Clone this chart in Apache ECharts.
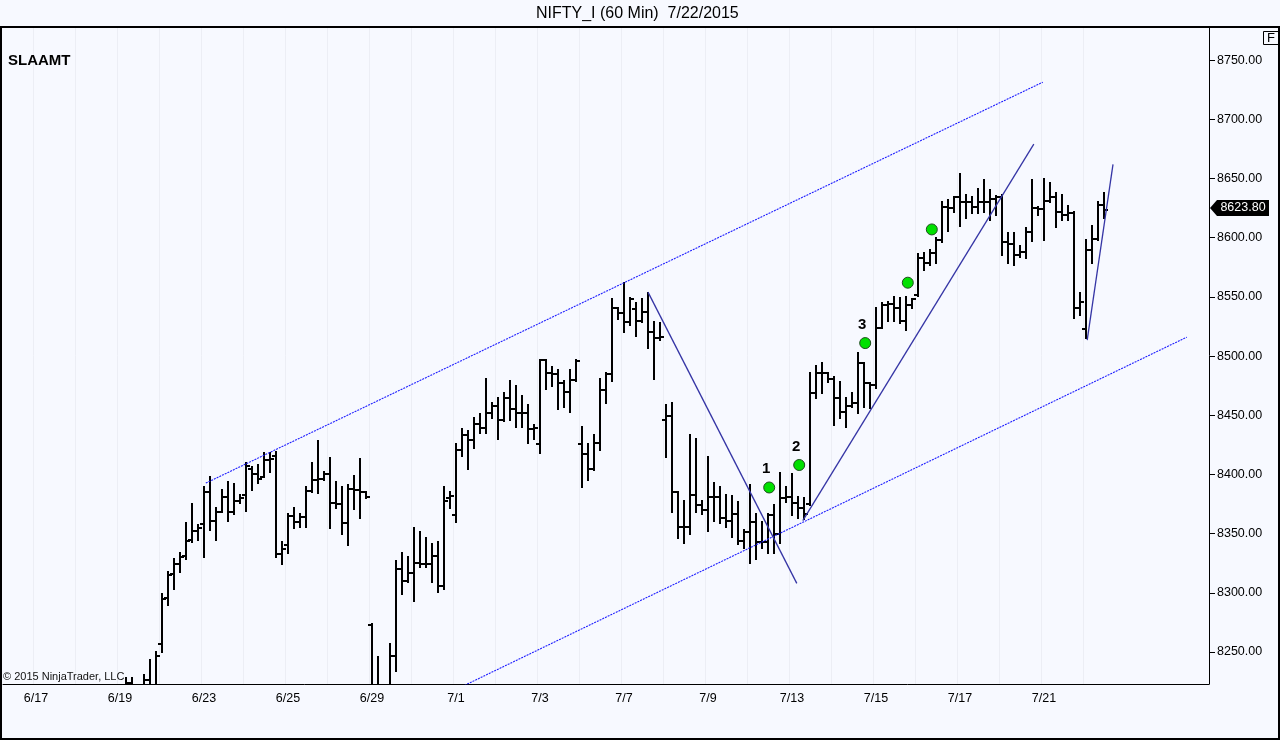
<!DOCTYPE html>
<html>
<head>
<meta charset="utf-8">
<title>NIFTY_I (60 Min)</title>
<script src="https://cdn.jsdelivr.net/npm/echarts@6.0.0/dist/echarts.min.js"></script>
<style>
  html, body { margin: 0; padding: 0; background: #F7F9FF; }
  #chart { width: 1280px; height: 740px; }
</style>
</head>
<body>
<div id="chart"></div>
<script>
// trading days shown on the axis, 7 hourly bars per session
var days = ['6/17', '6/18', '6/19', '6/22', '6/23', '6/24', '6/25', '6/26', '6/29', '6/30',
    '7/1', '7/2', '7/3', '7/6', '7/7', '7/8', '7/9', '7/10', '7/13', '7/14',
    '7/15', '7/16', '7/17', '7/20', '7/21', '7/22'];

var LEAD = 5;        // bars of 6/16 at the left edge (below the visible range)
var PER_DAY = 7;
var SLOTS = 201;
var FIRST_BAR = 19;  // first slot that has values (6/19, bar 1)

// one row per session, from 6/19
var opens = [
    null, 8222, 8224, 8214, 8212, 8226, 8222,
    8257, 8296, 8316, 8324, 8331, 8345, 8352,
    8358, 8385, 8361, 8368, 8381, 8368, 8378,
    8383, 8405, 8400, 8398, 8412, 8416, 8333,
    8340, 8365, 8360, 8364, 8386, 8395, 8396,
    8400, 8376, 8375, 8359, 8388, 8387, 8385,
    8273, 8215, 8206, 8208, 8247, 8320, 8310,
    8317, 8325, 8324, 8324, 8331, 8306, 8380,
    8366, 8421, 8433, 8429, 8443, 8439, 8452,
    8458, 8446, 8465, 8455, 8452, 8452, 8438,
    8426, 8497, 8486, 8485, 8477, 8470, 8480,
    8426, 8417, 8405, 8427, 8471, 8485, 8541,
    8536, 8529, 8540, 8530, 8537, 8520, 8515,
    8446, 8449, 8385, 8356, 8356, 8383, 8374,
    8370, 8381, 8381, 8363, 8361, 8367, 8344,
    8351, 8360, 8343, 8343, 8366, 8350, 8380,
    8381, 8376, 8372, 8375, 8469, 8486, 8486,
    8481, 8465, 8453, 8458, 8460, 8494, 8477,
    8476, 8524, 8543, 8544, 8541, 8530, 8543,
    8552, 8583, 8579, 8587, 8598, 8626, 8625,
    8634, 8630, 8630, 8626, 8630, 8630, 8633,
    8634, 8596, 8595, 8585, 8588, 8605, 8625,
    8624, 8631, 8634, 8622, 8619, 8621, 8541,
    8523, 8590, 8599, 8628
];
var highs = [
    null, 8228, 8228, 8219, 8231, 8243, 8250,
    8299, 8318, 8329, 8334, 8359, 8375, 8357,
    8389, 8398, 8372, 8387, 8394, 8392, 8383,
    8410, 8406, 8408, 8418, 8418, 8419, 8343,
    8367, 8372, 8367, 8389, 8410, 8428, 8402,
    8414, 8394, 8389, 8391, 8399, 8413, 8385,
    8274, 8246, 8219, 8257, 8327, 8334, 8330,
    8355, 8351, 8346, 8341, 8343, 8389, 8385,
    8426, 8438, 8437, 8448, 8451, 8481, 8460,
    8465, 8469, 8479, 8475, 8466, 8459, 8442,
    8497, 8497, 8491, 8488, 8479, 8488, 8497,
    8440, 8426, 8433, 8481, 8486, 8548, 8541,
    8562, 8549, 8545, 8548, 8553, 8529, 8528,
    8459, 8460, 8385, 8378, 8433, 8430, 8378,
    8415, 8393, 8389, 8383, 8382, 8377, 8353,
    8391, 8367, 8360, 8367, 8374, 8401, 8389,
    8400, 8381, 8380, 8486, 8492, 8494, 8486,
    8482, 8478, 8465, 8469, 8503, 8494, 8477,
    8541, 8545, 8546, 8550, 8549, 8550, 8548,
    8586, 8587, 8590, 8600, 8630, 8632, 8634,
    8654, 8636, 8634, 8641, 8649, 8640, 8635,
    8636, 8604, 8604, 8593, 8608, 8649, 8626,
    8650, 8646, 8638, 8636, 8627, 8622, 8553,
    8598, 8610, 8630, 8638
];
var lows = [
    null, 8212, 8210, 8204, 8208, 8214, 8219,
    8250, 8290, 8303, 8318, 8329, 8343, 8345,
    8330, 8353, 8345, 8368, 8361, 8367, 8376,
    8369, 8387, 8393, 8398, 8402, 8330, 8324,
    8334, 8355, 8356, 8356, 8385, 8384, 8395,
    8355, 8372, 8350, 8340, 8371, 8363, 8380,
    8200, 8198, 8190, 8205, 8234, 8299, 8309,
    8293, 8322, 8322, 8309, 8301, 8303, 8372,
    8360, 8416, 8405, 8422, 8435, 8435, 8448,
    8430, 8445, 8446, 8440, 8440, 8427, 8430,
    8418, 8472, 8475, 8455, 8457, 8453, 8479,
    8389, 8395, 8404, 8421, 8460, 8479, 8531,
    8520, 8526, 8517, 8529, 8507, 8481, 8514,
    8415, 8368, 8346, 8342, 8350, 8368, 8367,
    8352, 8361, 8359, 8356, 8347, 8341, 8338,
    8325, 8329, 8338, 8334, 8334, 8342, 8377,
    8366, 8363, 8362, 8374, 8465, 8469, 8478,
    8442, 8448, 8440, 8457, 8452, 8457, 8456,
    8473, 8524, 8530, 8530, 8528, 8522, 8541,
    8551, 8573, 8577, 8579, 8596, 8606, 8622,
    8610, 8617, 8621, 8621, 8622, 8615, 8619,
    8585, 8579, 8577, 8584, 8583, 8597, 8619,
    8598, 8630, 8609, 8615, 8615, 8532, 8535,
    8515, 8579, 8598, 8617
];
var closes = [
    null, 8224, 8214, 8212, 8226, 8221, 8247,
    8295, 8315, 8324, 8330, 8344, 8352, 8355,
    8385, 8361, 8368, 8381, 8368, 8378, 8380,
    8407, 8400, 8396, 8412, 8413, 8333, 8337,
    8365, 8360, 8364, 8386, 8395, 8396, 8400,
    8376, 8375, 8359, 8388, 8387, 8385, 8381,
    8215, 8206, 8208, 8247, 8320, 8310, 8317,
    8325, 8324, 8324, 8331, 8306, 8378, 8382,
    8421, 8433, 8429, 8443, 8439, 8452, 8458,
    8446, 8465, 8455, 8452, 8452, 8438, 8439,
    8497, 8486, 8485, 8477, 8470, 8480, 8496,
    8417, 8405, 8427, 8471, 8485, 8541, 8536,
    8529, 8548, 8530, 8537, 8520, 8515, 8516,
    8449, 8385, 8356, 8356, 8383, 8374, 8370,
    8381, 8381, 8363, 8361, 8367, 8344, 8351,
    8360, 8343, 8343, 8366, 8350, 8380, 8381,
    8376, 8372, 8367, 8469, 8486, 8486, 8481,
    8465, 8453, 8458, 8460, 8494, 8477, 8476,
    8524, 8543, 8544, 8541, 8530, 8543, 8548,
    8583, 8579, 8587, 8598, 8626, 8625, 8634,
    8630, 8630, 8626, 8630, 8630, 8633, 8634,
    8596, 8595, 8585, 8588, 8605, 8625, 8624,
    8631, 8634, 8622, 8619, 8621, 8541, 8546,
    8590, 8599, 8628, 8623.80
];

// y axis ticks
var priceTicks = [8250, 8300, 8350, 8400, 8450, 8500, 8550, 8600, 8650, 8700, 8750];
var priceMin = 8223;
var priceMax = 8778;

// drawn trend lines: [slot, price] pairs
var upperChannel = [[33.3, 8392.7], [172.8, 8731.4]];
var lowerChannel = [[62, 8186.6], [196.8, 8516]];
var fallLine = [[107, 8554], [131.8, 8308]];
var riseLine = [[132.8, 8361], [171.3, 8679]];
var lastLine = [[180.2, 8513.5], [184.5, 8662]];

// green signal dots: slot, price, label
var dots = [[127.2, 8389, '1'], [132.2, 8408, '2'], [143.2, 8511, '3'], [150.3, 8562, ''], [154.3, 8607, '']];

var FONT = '"Liberation Sans", Arial, sans-serif';

var cats = [];
for (var i = 0; i < LEAD; i++) cats.push('6/16 ' + (i + 3));
days.forEach(function (d) {
    for (var b = 1; b <= PER_DAY; b++) cats.push(d + ' ' + b);
});
while (cats.length < SLOTS) cats.push('pad ' + cats.length);

var dayStart = {};
var labelled = {};
days.forEach(function (d, k) {
    dayStart[LEAD + k * PER_DAY] = true;
    if (k % 2 === 0 && k < 25) labelled[LEAD + k * PER_DAY] = true;
});

var bars = [];
for (var k = 0; k < opens.length; k++) {
    if (opens[k] == null) continue;
    bars.push([FIRST_BAR + k, opens[k], highs[k], lows[k], closes[k]]);
}

function drawBar(params, api) {
    var i = api.value(0);
    var x = Math.round(api.coord([i, api.value(1)])[0]);
    var yO = Math.round(api.coord([i, api.value(1)])[1]);
    var yH = Math.round(api.coord([i, api.value(2)])[1]);
    var yL = Math.round(api.coord([i, api.value(3)])[1]);
    var yC = Math.round(api.coord([i, api.value(4)])[1]);
    var st = { stroke: '#000', lineWidth: 2 };
    return {
        type: 'group',
        children: [
            { type: 'line', shape: { x1: x, y1: yH - 1, x2: x, y2: yL + 1 }, style: st },
            { type: 'line', shape: { x1: x - 4, y1: yO, x2: x, y2: yO }, style: st },
            { type: 'line', shape: { x1: x, y1: yC, x2: x + 4, y2: yC }, style: st }
        ]
    };
}

function trend(data, color, dash, width) {
    return {
        type: 'line',
        xAxisIndex: 1,
        data: data,
        symbol: 'none',
        silent: true,
        clip: true,
        animation: false,
        lineStyle: { color: color, width: width, type: dash }
    };
}

var myChart = echarts.init(document.getElementById('chart'));

var option = {
    backgroundColor: '#F7F9FF',
    animation: false,
    title: {
        text: 'NIFTY_I (60 Min)  7/22/2015',
        left: 536,
        top: 6,
        padding: 0,
        textStyle: { fontFamily: FONT, fontSize: 16, fontWeight: 'normal', color: '#000' }
    },
    grid: { left: 3, right: 71, top: 27, bottom: 56 },
    xAxis: [
        {
            type: 'category',
            data: cats,
            boundaryGap: true,
            axisLine: { onZero: false, lineStyle: { color: '#000', width: 1 } },
            axisTick: {
                alignWithLabel: true,
                length: 6,
                lineStyle: { color: '#000' },
                interval: function (idx) { return !!dayStart[idx]; }
            },
            axisLabel: {
                interval: function (idx) { return !!labelled[idx]; },
                formatter: function (v) { return v.split(' ')[0]; },
                color: '#000',
                fontFamily: FONT,
                fontSize: 12.5,
                margin: 8
            },
            splitLine: {
                show: true,
                interval: function (idx) { return !!dayStart[idx]; },
                lineStyle: { color: '#ECEEF5', width: 1 }
            }
        },
        {
            type: 'value',
            min: -0.5,
            max: SLOTS - 0.5,
            show: false
        }
    ],
    yAxis: {
        type: 'value',
        position: 'right',
        min: priceMin,
        max: priceMax,
        axisLine: { show: true, onZero: false, lineStyle: { color: '#000', width: 1 } },
        axisTick: { show: true, length: 6, lineStyle: { color: '#000' }, customValues: priceTicks },
        axisLabel: {
            customValues: priceTicks,
            formatter: function (v) { return v.toFixed(2); },
            color: '#000',
            fontFamily: FONT,
            fontSize: 12.5,
            margin: 8
        },
        splitLine: { show: false }
    },
    series: [
        trend(upperChannel, '#1E1EFF', [2, 1], 1.1),
        trend(lowerChannel, '#1E1EFF', [2, 1], 1.1),
        trend(fallLine, '#3535A5', 'solid', 1.3),
        trend(riseLine, '#3535A5', 'solid', 1.3),
        trend(lastLine, '#3535A5', 'solid', 1.3),
        {
            type: 'custom',
            name: 'NIFTY_I',
            renderItem: drawBar,
            data: bars,
            encode: { x: 0, y: [1, 2, 3, 4] },
            clip: true,
            z: 3
        },
        {
            type: 'scatter',
            xAxisIndex: 1,
            symbolSize: 11,
            z: 4,
            itemStyle: { color: '#00E000', borderColor: '#1E4D1E', borderWidth: 1, opacity: 1 },
            label: {
                show: true,
                position: 'top',
                distance: 5,
                offset: [-3, 0],
                color: '#000',
                fontFamily: FONT,
                fontSize: 15,
                fontWeight: 'bold'
            },
            data: dots.map(function (d) {
                return { value: [d[0], d[1]], label: { show: d[2] !== '', formatter: d[2] } };
            })
        }
    ]
};

myChart.setOption(option);

// last price tag on the price axis
var lastClose = closes[closes.length - 1];
var yLast = Math.round(myChart.convertToPixel({ yAxisIndex: 0 }, lastClose)) - 2;

myChart.setOption({
    graphic: [
        {
            type: 'rect',
            shape: { x: 1, y: 27, width: 1278, height: 712 },
            style: { fill: 'none', stroke: '#000', lineWidth: 2 },
            silent: true
        },
        {
            type: 'text',
            left: 8,
            top: 53,
            style: { text: 'SLAAMT', font: 'bold 15px ' + FONT, fill: '#000' }
        },
        {
            type: 'text',
            left: 3,
            top: 671,
            style: { text: '\u00A9 2015 NinjaTrader, LLC', font: '11px ' + FONT, fill: '#111' }
        },
        {
            type: 'rect',
            shape: { x: 1263.5, y: 31.5, width: 15, height: 13 },
            style: { fill: 'none', stroke: '#000', lineWidth: 1 }
        },
        {
            type: 'text',
            x: 1271,
            y: 38.5,
            style: { text: 'F', font: '13px ' + FONT, fill: '#000', align: 'center', verticalAlign: 'middle' }
        },
        {
            type: 'polygon',
            shape: { points: [[1210, yLast], [1217, yLast - 8], [1269, yLast - 8], [1269, yLast + 8], [1217, yLast + 8]] },
            style: { fill: '#000' }
        },
        {
            type: 'text',
            x: 1243,
            y: yLast,
            style: { text: lastClose.toFixed(2), font: '12.5px ' + FONT, fill: '#fff', align: 'center', verticalAlign: 'middle' }
        }
    ]
});
</script>
</body>
</html>
